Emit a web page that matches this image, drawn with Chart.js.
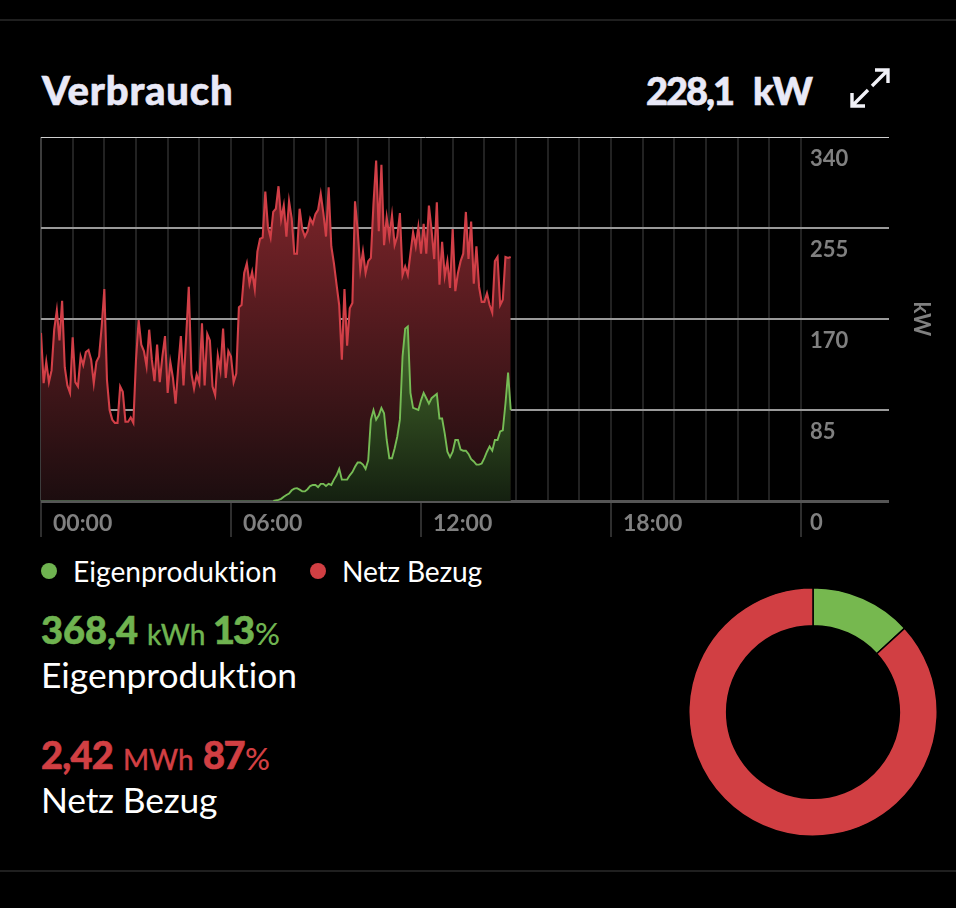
<!DOCTYPE html>
<html>
<head>
<meta charset="utf-8">
<title>Verbrauch</title>
<script src="https://cdn.jsdelivr.net/npm/chart.js@4"></script>
<style>
html, body { margin: 0; padding: 0; background: #000; width: 956px; height: 908px; overflow: hidden; }
body { position: relative; font-family: Lato, sans-serif; color: #fff; font-variant-ligatures: none; }
.rule { position: absolute; left: 0; width: 956px; height: 2px; background: #1f1f1f; }
.t { position: absolute; white-space: nowrap; line-height: 1; }
.head { font-weight: 900; font-size: 38px; color: #e9e9f7; -webkit-text-stroke: .6px #e9e9f7; }
.leg { font-size: 28.2px; }
.num { font-weight: 900; font-size: 38px; letter-spacing: -0.8px; -webkit-text-stroke: .6px currentColor; }
.unit { font-size: 28px; font-weight: 500; -webkit-text-stroke: .3px currentColor; }
.pct { font-size: 31px; font-weight: 500; }
.name { font-size: 35.4px; }
.dot { position: absolute; width: 16px; height: 16px; border-radius: 50%; }
.green { color: #6fb350; }
.red { color: #d13f43; }
canvas { position: absolute; }
svg { position: absolute; left: 845px; top: 64px; }
</style>
</head>
<body>
<div class="rule" style="top:19px"></div>
<div class="rule" style="top:870px"></div>

<div class="t head" style="left:42px;top:70px;font-size:40px;letter-spacing:.8px">Verbrauch</div>
<div class="t head" style="left:646px;top:71px;letter-spacing:-2px">228,1</div>
<div class="t head" style="left:753px;top:71px">kW</div>
<svg width="50" height="48" fill="none" stroke="#f2f2f8" stroke-width="3.4">
  <path d="M27 22 L43 6 M30 6 H43 V19"/>
  <path d="M23 26 L7 42 M7 29 V42 H20"/>
</svg>

<canvas id="verlaufChart" width="925" height="420" style="left:31px;top:127px"></canvas>

<div class="dot" style="left:41px;top:563px;background:#6fb350"></div>
<div class="t leg" style="left:73px;top:557px">Eigenproduktion</div>
<div class="dot" style="left:310px;top:563px;background:#d13f43"></div>
<div class="t leg" style="left:342px;top:557px;letter-spacing:-.2px">Netz Bezug</div>

<div class="t num green" style="left:41px;top:610px;letter-spacing:0">368,4</div>
<div class="t unit green" style="left:147px;top:620px">kWh</div>
<div class="t num green" style="left:213px;top:610px;letter-spacing:-2px">13</div>
<div class="t pct green" style="left:255px;top:618px">%</div>
<div class="t name" style="left:41px;top:657px">Eigenproduktion</div>

<div class="t num red" style="left:41px;top:735px">2,42</div>
<div class="t unit red" style="left:123px;top:745px">MWh</div>
<div class="t num red" style="left:203px;top:735px;letter-spacing:-1.5px">87</div>
<div class="t pct red" style="left:245px;top:743px">%</div>
<div class="t name" style="left:41px;top:782px;letter-spacing:-.2px">Netz Bezug</div>

<canvas id="anteilChart" width="250" height="250" style="left:688px;top:587px"></canvas>

<script>
// Leistung alle 5 Minuten ab 00:00, in kW
var netzBezug = [
  157, 110, 130, 111, 122, 160, 178, 150, 187, 125, 108, 101, 153, 111, 107, 135, 127, 139, 141, 132,
  110, 130, 135, 163, 198, 113, 85, 76, 73, 73, 107, 102, 74, 74, 78, 73, 132, 169, 146, 140,
  126, 160, 132, 112, 146, 111, 135, 154, 101, 130, 115, 91, 125, 154, 108, 153, 200, 119, 105, 118,
  110, 166, 108, 156, 150, 107, 99, 136, 122, 161, 115, 140, 135, 111, 119, 181, 183, 213, 222, 203,
  214, 198, 233, 245, 246, 289, 256, 246, 270, 273, 294, 263, 276, 247, 280, 264, 231, 231, 273, 254,
  247, 252, 264, 259, 268, 272, 287, 269, 247, 293, 238, 222, 202, 183, 132, 198, 145, 180, 185, 280,
  253, 216, 233, 213, 224, 227, 278, 318, 252, 314, 239, 265, 247, 267, 239, 247, 269, 211, 219, 211,
  231, 251, 238, 256, 231, 259, 231, 276, 253, 226, 279, 202, 242, 210, 224, 199, 254, 196, 213, 224,
  231, 270, 226, 261, 203, 238, 200, 186, 186, 194, 183, 176, 224, 228, 183, 188, 228, 227, 228
];
var eigenproduktion = [
  0, 0, 0, 0, 0, 0, 0, 0, 0, 0, 0, 0, 0, 0, 0, 0, 0, 0, 0, 0,
  0, 0, 0, 0, 0, 0, 0, 0, 0, 0, 0, 0, 0, 0, 0, 0, 0, 0, 0, 0,
  0, 0, 0, 0, 0, 0, 0, 0, 0, 0, 0, 0, 0, 0, 0, 0, 0, 0, 0, 0,
  0, 0, 0, 0, 0, 0, 0, 0, 0, 0, 0, 0, 0, 0, 0, 0, 0, 0, 0, 0,
  0, 0, 0, 0, 0, 0, 0, 0, 0,
  0.5, 1, 2, 4, 5.6, 7, 10, 11.5,
  12, 10.6, 9, 9, 11, 14, 15, 15, 13, 16,
  16, 14, 16, 15, 20, 24, 30, 20, 20, 20,
  24, 27, 32, 36, 36, 34, 30, 38, 76, 85,
  76, 80, 87, 82, 57, 40, 40, 49, 60, 76,
  135, 161, 163, 101, 87, 86, 85, 94, 101, 96,
  91, 96, 98, 100, 77, 77, 63, 46, 41, 46,
  57, 57, 48, 47, 47, 44, 39, 37, 34, 34,
  35, 40, 46, 51, 47, 57, 57, 65, 66, 91,
  120, 85
];
var stundenTicks = [0, 6, 12, 18];
var stundenLabels = ['00:00', '06:00', '12:00', '18:00'];
var kwTicks = [0, 85, 170, 255, 340];
var anteilNamen = ['Eigenproduktion', 'Netz Bezug'];
var anteilKwh = [368.4, 2420];

var GRUEN = '#76bc55';
var ROT = '#d13f47';
var TICK_GRAU = '#808080';
var X_FONT = { family: 'Lato, sans-serif', size: 23, weight: '700' };
var Y_FONT = { family: 'Lato, sans-serif', size: 22, weight: '700' };

function punkte(werte) {
    var out = [];
    for (var i = 0; i < werte.length; i++) {
        out.push({ x: i * 5 / 60, y: werte[i] });
    }
    return out;
}

function verlauf(oben, unten) {
    return function (ctx) {
        var area = ctx.chart.chartArea;
        if (!area) return oben;
        var g = ctx.chart.ctx.createLinearGradient(0, area.top, 0, area.bottom);
        g.addColorStop(0, oben);
        g.addColorStop(1, unten);
        return g;
    };
}

new Chart(document.getElementById('verlaufChart'), {
    type: 'line',
    data: {
        datasets: [
            {
                label: 'Eigenproduktion',
                data: punkte(eigenproduktion),
                borderColor: GRUEN,
                borderWidth: 1.9,
                backgroundColor: verlauf('rgb(125,190,75)', 'rgb(20,32,16)'),
                fill: 'origin',
                pointRadius: 0,
                tension: 0,
                segment: {
                    // solange nichts produziert wird, bleibt die Linie blass
                    borderColor: function (c) {
                        return c.p0.parsed.y === 0 && c.p1.parsed.y === 0 ? '#4a5a48' : undefined;
                    }
                }
            },
            {
                label: 'Netz Bezug',
                data: punkte(netzBezug),
                borderColor: ROT,
                borderWidth: 2.1,
                backgroundColor: verlauf('rgb(140,40,46)', 'rgb(28,13,15)'),
                fill: 'origin',
                pointRadius: 0,
                tension: 0
            }
        ]
    },
    options: {
        responsive: false,
        animation: false,
        layout: { padding: { left: 10, right: 22, top: 10, bottom: 0 } },
        plugins: { legend: { display: false }, tooltip: { enabled: false } },
        scales: {
            x: {
                type: 'linear',
                min: 0,
                max: 24.284,
                afterFit: function (s) { s.height = 46; },
                afterBuildTicks: function (s) {
                    var t = [];
                    for (var h = 0; h <= 24; h++) t.push({ value: h });
                    s.ticks = t;
                },
                border: { display: false },
                grid: {
                    tickLength: 36,
                    lineWidth: 2,
                    color: function (c) {
                        if (!c.tick) return 'transparent';
                        return c.tick.value === 0 ? '#3c3c3c' : '#222';
                    },
                    tickColor: function (c) {
                        return c.tick && c.tick.value % 6 === 0 ? '#2e2e2e' : 'transparent';
                    }
                },
                ticks: {
                    autoSkip: false,
                    maxRotation: 0,
                    align: 'start',
                    labelOffset: 12,
                    padding: -27,
                    color: TICK_GRAU,
                    font: X_FONT,
                    callback: function (v) {
                        var i = stundenTicks.indexOf(v);
                        return i < 0 ? '' : stundenLabels[i];
                    }
                }
            },
            y: {
                position: 'right',
                min: 0,
                max: 340,
                afterFit: function (s) { s.width = 124; },
                afterBuildTicks: function (s) {
                    s.ticks = kwTicks.map(function (v) { return { value: v }; });
                },
                border: { display: false },
                title: {
                    display: true,
                    text: 'kW',
                    color: TICK_GRAU,
                    font: Y_FONT,
                    padding: 0
                },
                grid: {
                    tickLength: 79,
                    lineWidth: function (c) {
                        if (!c.tick) return 1;
                        if (c.tick.value === 0) return 3;
                        return c.tick.value === 340 ? 1 : 2;
                    },
                    color: function (c) {
                        if (!c.tick) return 'transparent';
                        if (c.tick.value === 0) return '#555';
                        return c.tick.value === 340 ? '#cfcfcf' : '#9a9a9a';
                    }
                },
                ticks: {
                    autoSkip: false,
                    padding: -79,
                    labelOffset: 22,
                    color: TICK_GRAU,
                    font: Y_FONT
                }
            }
        }
    }
});

new Chart(document.getElementById('anteilChart'), {
    type: 'doughnut',
    data: {
        labels: anteilNamen,
        datasets: [{
            data: anteilKwh,
            backgroundColor: ['#76b84f', '#d13f43'],
            borderColor: '#000',
            borderWidth: 1.5
        }]
    },
    options: {
        responsive: false,
        animation: false,
        cutout: '69.5%',
        plugins: { legend: { display: false }, tooltip: { enabled: false } }
    }
});
</script>
</body>
</html>
